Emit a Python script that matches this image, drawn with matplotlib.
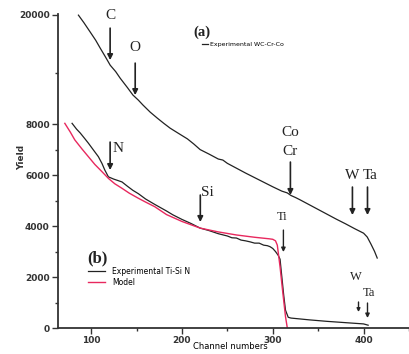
import matplotlib.pyplot as plt

# (a) experimental WC-Cr-Co, plotted in the display units of the shared axis
ch_a = [86, 92, 99, 105, 110, 116, 121, 127, 132, 140, 146, 152, 157, 165,
        173, 180, 187, 196, 206, 213, 220, 230, 240, 245, 250, 260, 270, 280,
        290, 300, 310, 316, 320, 325, 330, 340, 350, 360, 370, 380, 390, 400,
        404, 408, 412, 415]
yield_a = [12275, 11980, 11610, 11290, 10980, 10620, 10310, 10060, 9800, 9430,
           9140, 8940, 8750, 8470, 8230, 8030, 7840, 7640, 7420, 7220, 7000,
           6820, 6630, 6590, 6460, 6270, 6080, 5900, 5720, 5540, 5370, 5300,
           5200, 5120, 5030, 4840, 4650, 4460, 4270, 4090, 3900, 3720, 3570,
           3300, 3010, 2745]

# (b) experimental Ti-Si N
ch_b = [79, 84, 88, 93, 97, 103, 108, 112, 115, 119, 125, 130, 134, 140, 146,
        152, 160, 170, 183, 190, 200, 210, 220, 230, 240, 250, 255, 260, 265,
        270, 275, 280, 285, 290, 294, 297, 300, 303, 306, 308, 310, 312, 314,
        317, 320, 340, 360, 380, 400, 405]
yield_b = [8030, 7800, 7650, 7430, 7250, 6960, 6720, 6450, 6200, 5930, 5840,
           5780, 5730, 5560, 5400, 5270, 5060, 4850, 4590, 4440, 4260, 4100,
           3920, 3820, 3700, 3610, 3540, 3530, 3450, 3420, 3380, 3330, 3330,
           3250, 3230, 3190, 3120, 3000, 2850, 2700, 2000, 1300, 700, 420,
           390, 320, 260, 210, 160, 110]

# model
ch_m = [71, 77, 82, 90, 97, 104, 112, 119, 126, 134, 142, 152, 160, 170, 183,
        200, 210, 220, 240, 260, 280, 296, 300, 303, 305, 308, 311, 314, 316]
yield_m = [8030, 7690, 7380, 7020, 6720, 6420, 6130, 5870, 5660, 5480, 5290,
           5090, 4940, 4760, 4450, 4180, 4050, 3920, 3770, 3650, 3560, 3500,
           3480, 3420, 3250, 2400, 1400, 450, 0]

y_ticks = [0, 2000, 4000, 6000, 8000, 12300]
y_labels = ["0", "2000", "4000", "6000", "8000", "20000"]
y_minor = [1000, 3000, 5000, 7000, 10000]
x_ticks = [100, 200, 300, 400]
x_minor = [150, 250, 350, 450]

PINK = "#e8285e"
INK = "#222222"
SERIF = "Liberation Serif"

fig = plt.figure(figsize=(4.09, 3.54), dpi=100)
ax = fig.add_axes([58 / 409, 26 / 354, 351 / 409, 314 / 354])

la, = ax.plot(ch_a, yield_a, color=INK, lw=0.9)
lb, = ax.plot(ch_b, yield_b, color=INK, lw=0.9)
lm, = ax.plot(ch_m, yield_m, color=PINK, lw=1.0)

ax.set_xlim(63.5, 449)
ax.set_ylim(0, 12320)
ax.set_yticks(y_ticks)
ax.set_yticklabels(y_labels)
ax.set_yticks(y_minor, minor=True)
ax.set_xticks(x_ticks)
ax.set_xticks(x_minor, minor=True)

for side in ["top", "right"]:
    ax.spines[side].set_visible(False)
for side in ["left", "bottom"]:
    ax.spines[side].set_color("#333333")
    ax.spines[side].set_linewidth(1.3)

ax.tick_params(which="major", length=4, width=1, color="#333333",
               labelsize=6.5, pad=2)
ax.tick_params(which="minor", length=2.5, width=1, color="#333333")
for lab in ax.get_xticklabels() + ax.get_yticklabels():
    lab.set_fontweight("bold")
    lab.set_color("#333333")

fig.text(22 / 409, 1 - 157 / 354, "Yield", rotation=90, fontsize=6.5,
         fontweight="bold", ha="center", va="center", color="#333333")
ax.set_xlabel("Channel numbers", fontsize=6, labelpad=1)
ax.xaxis.set_label_coords(0.49, -0.045)


def arrow(x, y0, y1, lw=1.2, size=8):
    ax.annotate("", xy=(x, y1), xytext=(x, y0),
                arrowprops=dict(arrowstyle="-|>", lw=lw, color=INK,
                                mutation_scale=size, shrinkA=0, shrinkB=0))


def label(s, x, y, size=11, weight="normal"):
    ax.text(x, y, s, fontsize=size, family=SERIF, fontweight=weight,
            ha="center", va="center", color=INK)


label("C", 120.9, 12275)
arrow(120.9, 11765, 10510)
label("O", 148.5, 11020)
arrow(148.5, 10392, 9137)
label("N", 129.8, 7059)
arrow(120.9, 7294, 6196)
label("Si", 227.9, 5333)
arrow(220.2, 5216, 4157)
label("Co", 319.4, 7686)
label("Cr", 319.4, 6941)
arrow(319.4, 6510, 5216)
label("W", 387.7, 6000)
label("Ta", 407.5, 6000)
arrow(387.7, 5529, 4431)
arrow(404.3, 5529, 4431)
label("Ti", 310.6, 4353, size=9)
arrow(311.7, 3843, 2980, lw=1.0, size=6)
label("W", 391, 2000, size=9)
label("Ta", 405.4, 1373, size=9)
arrow(394.4, 1020, 627, lw=1.0, size=5)
arrow(404.3, 980, 392, lw=1.0, size=6)

label("(a)", 222.4, 11608, size=10.5, weight="bold")
label("(b)", 106.6, 2745, size=12, weight="bold")

leg_a = ax.legend([la], ["Experimental WC-Cr-Co"], loc="upper left",
                  bbox_to_anchor=(0.41, 0.913), frameon=False, fontsize=4.5,
                  handlelength=1.0, handletextpad=0.3, borderpad=0,
                  borderaxespad=0)
ax.add_artist(leg_a)
ax.legend([lb, lm], ["Experimental Ti-Si N", "Model"], loc="upper left",
          bbox_to_anchor=(0.0855, 0.194), frameon=False, fontsize=5.5,
          handlelength=2.2, handletextpad=1.0, borderpad=0, borderaxespad=0,
          labelspacing=0.22)

fig.savefig("out.png", dpi=100)
plt.close(fig)
